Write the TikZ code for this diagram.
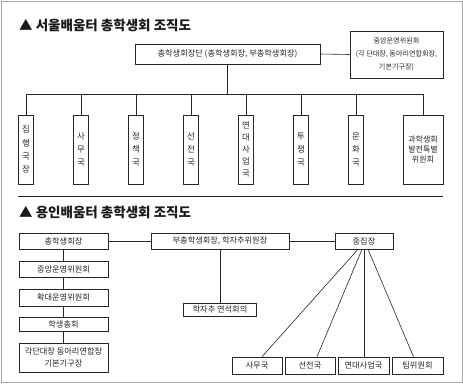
\documentclass[tikz,border=0pt]{standalone}
\usepackage{fontspec}
\setmainfont{Noto Sans CJK KR}
\begin{document}
\begin{tikzpicture}[x=1pt,y=-1pt,
  box/.style={draw=black!85, line width=0.6pt, inner sep=0pt, align=center, font=\fontsize{8.2}{9}\selectfont, text=black!85},
  vbox/.style={box, minimum width=15pt, minimum height=69pt, font=\fontsize{8.4}{12.8}\selectfont},
  ln/.style={draw=black!85, line width=0.6pt},
  ttl/.style={anchor=west, inner sep=0pt, font=\bfseries\fontsize{13.5}{15}\selectfont, text=black!90}]
\useasboundingbox (0,0) rectangle (463,383);
\draw[black!35, line width=0.5pt] (1,1) rectangle (462,382);

% ---------- top section ----------
\node[ttl] (t1) at (19,25.5) {▲ 서울배움터 총학생회 조직도};
\node[box, minimum width=185pt, minimum height=20pt] (top) at (227.5,54) {총학생회장단 (총학생회장, 부총학생회장)};
\node[box, minimum width=93pt, minimum height=47pt, font=\fontsize{7.1}{13}\selectfont] (cw) at (396.5,54.5) {중앙운영위원회\\(각 단대장, 동아리연합회장,\\기본기구장)};
\draw[ln] (top.east) -- (cw.west);

\coordinate (bus) at (228,94);
\node[vbox, font=\fontsize{8.4}{13.3}\selectfont] (b1) at (26,149.5) {집\\행\\국\\장};
\node[vbox] (b2) at (81,149.5) {사\\무\\국};
\node[vbox] (b3) at (136,149.5) {정\\책\\국};
\node[vbox] (b4) at (191,149.5) {선\\전\\국};
\node[vbox, font=\fontsize{8.4}{12}\selectfont] (b5) at (246,149.5) {연\\대\\사\\업\\국};
\node[vbox] (b6) at (301,149.5) {투\\쟁\\국};
\node[vbox] (b7) at (356,149.5) {문\\화\\국};
\node[box, minimum width=40pt, minimum height=69pt, font=\fontsize{8}{10}\selectfont] (b8) at (423,149.5) {과학생회\\발전특별\\위원회};
\draw[ln] (top.south) -- (top.south |- bus);
\draw[ln] (b1.north |- bus) -- (b8.north |- bus);
\foreach \b in {b1,b2,b3,b4,b5,b6,b7,b8} \draw[ln] (\b.north) -- (\b.north |- bus);

\draw[black!85, line width=0.8pt] (18,196) -- (443,196);

% ---------- bottom section ----------
\node[ttl] (t2) at (19,212.5) {▲ 용인배움터 총학생회 조직도};
\node[box, minimum width=89pt, minimum height=16pt] (p1) at (63.5,241) {총학생회장};
\node[box, minimum width=89pt, minimum height=16pt] (p2) at (63.5,269) {중앙운영위원회};
\node[box, minimum width=89pt, minimum height=17pt] (p3) at (63.5,297.5) {확대운영위원회};
\node[box, minimum width=89pt, minimum height=14pt] (p4) at (63.5,324) {학생총회};
\node[box, minimum width=89pt, minimum height=29pt, font=\fontsize{8.2}{12.5}\selectfont] (p5) at (63.5,357.5) {각단대장 동아리연합장\\기본기구장};
\draw[ln] (p1.south) -- (p2.north);
\draw[ln] (p2.south) -- (p3.north);
\draw[ln] (p3.south) -- (p4.north);
\draw[ln] (p4.south) -- (p5.north);

\node[box, minimum width=138pt, minimum height=16pt] (q1) at (220,241) {부총학생회장, 학자추위원장};
\node[box, minimum width=58pt, minimum height=16pt] (q2) at (364,241) {중집장};
\node[box, minimum width=73pt, minimum height=13pt] (q3) at (220,309.5) {학자추 연석회의};
\draw[ln] (p1.east) -- (q1.west);
\draw[ln] (q1.east) -- (q2.west);
\draw[ln] (q1.south) -- (q3.north);

\node[box, minimum width=50pt, minimum height=17pt] (r1) at (257,365.5) {사무국};
\node[box, minimum width=50pt, minimum height=17pt] (r2) at (310,365.5) {선전국};
\node[box, minimum width=51pt, minimum height=17pt] (r3) at (363.5,365.5) {연대사업국};
\node[box, minimum width=51pt, minimum height=17pt] (r4) at (417.5,365.5) {팀위원회};
\draw[ln] ([xshift=-6pt]q2.south) -- ([xshift=5pt]r1.north);
\draw[ln] ([xshift=-2pt]q2.south) -- ([xshift=7pt]r2.north);
\draw[ln] (q2.south) -- ([xshift=0.5pt]r3.north);
\draw[ln] ([xshift=4pt]q2.south) -- ([xshift=-4pt]r4.north);
\end{tikzpicture}
\end{document}
